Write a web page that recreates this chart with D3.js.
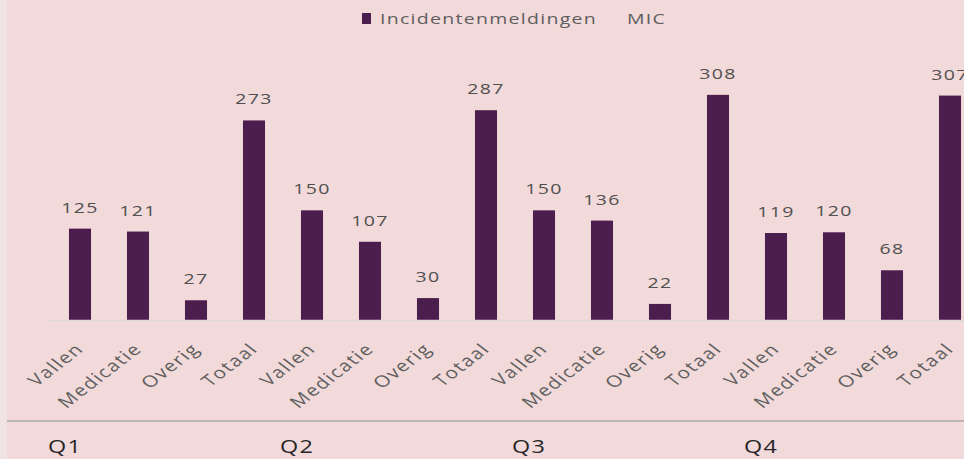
<!DOCTYPE html>
<html>
<head>
<meta charset="utf-8">
<script src="https://cdn.jsdelivr.net/npm/d3@7"></script>
<style>
  html, body { margin: 0; padding: 0; background: #F2D9DA; }
  svg { display: block; }
  text { font-family: 'Open Sans', 'Noto Sans', sans-serif; }
</style>
</head>
<body>
<div id="chart"></div>
<script>
// data
const quarters = ['Q1', 'Q2', 'Q3', 'Q4'];
const categories = ['Vallen', 'Medicatie', 'Overig', 'Totaal'];
const q1Values = [125, 121, 27, 273];
const q2Values = [150, 107, 30, 287];
const q3Values = [150, 136, 22, 308];
const q4Values = [119, 120, 68, 307];
const seriesName = 'Incidentenmeldingen';
const legendSuffix = 'MIC';

const width = 964;
const height = 459;
const stretch = 1.3; // the reference is widened horizontally
const baseline = 320;

const quarterValues = [q1Values, q2Values, q3Values, q4Values];
const rows = [];
quarters.forEach((q, qi) => {
    categories.forEach((c, ci) => {
        rows.push({ key: q + '-' + c, quarter: q, category: c, value: quarterValues[qi][ci] });
    });
});

const svg = d3.select('#chart')
    .append('svg')
    .attr('width', width)
    .attr('height', height);

svg.append('rect')
    .attr('width', width).attr('height', height)
    .attr('fill', '#F2D9DA');
svg.append('rect')
    .attr('width', 7).attr('height', height)
    .attr('fill', '#EFE3E3');

const xScale = d3.scaleBand()
    .domain(rows.map(d => d.key))
    .range([51, 979])
    .paddingInner(0.62)
    .paddingOuter(0.31);

const yScale = d3.scaleLinear()
    .domain([0, 350])
    .range([baseline, baseline - 350 * 0.731]);

// bars
svg.append('g')
    .selectAll('rect')
    .data(rows)
    .join('rect')
    .attr('x', d => xScale(d.key))
    .attr('y', d => yScale(d.value))
    .attr('width', xScale.bandwidth())
    .attr('height', d => yScale(0) - yScale(d.value))
    .attr('fill', '#4B1E4E');

// value labels
svg.append('g')
    .selectAll('text')
    .data(rows)
    .join('text')
    .attr('transform', d => 'translate(' + (xScale(d.key) + xScale.bandwidth() / 2) + ',' + (yScale(d.value) - 16) + ') scale(' + stretch + ',1)')
    .attr('text-anchor', 'middle')
    .attr('font-size', 15)
    .attr('letter-spacing', 1)
    .attr('fill', '#505050')
    .text(d => d.value);

// x axis line
svg.append('line')
    .attr('x1', 50).attr('x2', width)
    .attr('y1', baseline + 0.5).attr('y2', baseline + 0.5)
    .attr('stroke', '#D9D9D9')
    .attr('stroke-width', 1.5);

// rotated category labels
svg.append('g')
    .selectAll('text')
    .data(rows)
    .join('text')
    .attr('transform', d => 'translate(' + (xScale(d.key) + xScale.bandwidth() / 2 + 5) + ',350) scale(' + stretch + ',1) rotate(-45)')
    .attr('text-anchor', 'end')
    .attr('font-size', 16)
    .attr('letter-spacing', 1.2)
    .attr('fill', '#5E5E5E')
    .text(d => d.category);

// quarter separator and labels
svg.append('line')
    .attr('x1', 7).attr('x2', width)
    .attr('y1', 421).attr('y2', 421)
    .attr('stroke', '#A8A8A8')
    .attr('stroke-width', 1.5);

const step = xScale.step();
svg.append('g')
    .selectAll('text')
    .data(quarters)
    .join('text')
    .attr('transform', q => 'translate(' + (xScale(q + '-' + categories[0]) - step * 0.31 - 3) + ',453) scale(' + stretch + ',1)')
    .attr('font-size', 18)
    .attr('letter-spacing', 1)
    .attr('fill', '#262626')
    .text(q => q);

// legend
const legend = svg.append('g');
legend.append('rect')
    .attr('x', 362).attr('y', 13)
    .attr('width', 9).attr('height', 11)
    .attr('fill', '#4B1E4E');
legend.append('text')
    .attr('transform', 'translate(380,24) scale(' + stretch + ',1)')
    .attr('font-size', 15)
    .attr('letter-spacing', 1)
    .attr('fill', '#5E5E5E')
    .text(seriesName);
legend.append('text')
    .attr('transform', 'translate(627,24) scale(' + stretch + ',1)')
    .attr('font-size', 15)
    .attr('letter-spacing', 1)
    .attr('fill', '#5E5E5E')
    .text(legendSuffix);
</script>
</body>
</html>
